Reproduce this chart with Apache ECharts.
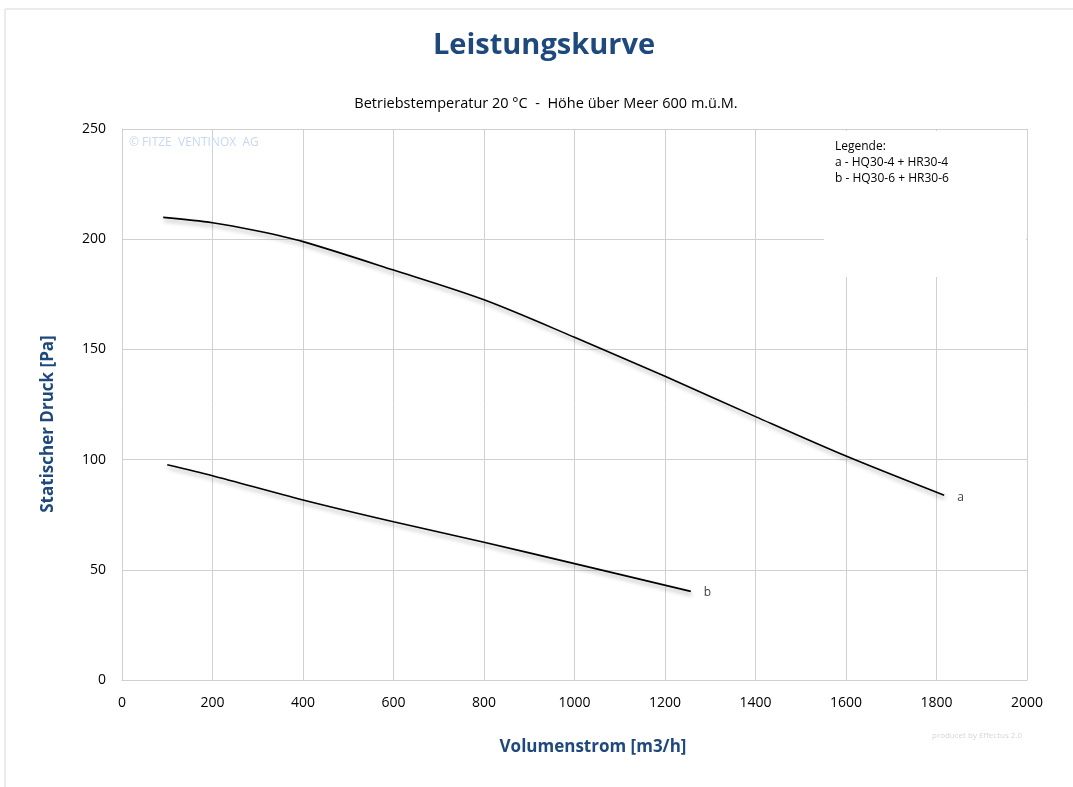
<!DOCTYPE html>
<html>
<head>
<meta charset="utf-8">
<script src="https://cdn.jsdelivr.net/npm/echarts@6/dist/echarts.min.js"></script>
<style>html,body{margin:0;padding:0;background:#fff}#c{width:1073px;height:787px}</style>
</head>
<body>
<div id="c"></div>
<script>
var curveA_x = [91, 200, 300, 400, 600, 800, 1000, 1200, 1400, 1600, 1817];
var curveA_y = [209.9, 207.5, 203.7, 198.9, 186.0, 172.5, 155.5, 137.8, 119.5, 101.6, 83.8];
var curveB_x = [100, 200, 400, 600, 800, 1000, 1257];
var curveB_y = [97.7, 92.7, 81.7, 71.8, 62.5, 52.8, 40.2];
var xTicks = [0, 200, 400, 600, 800, 1000, 1200, 1400, 1600, 1800, 2000];
var yTicks = [0, 50, 100, 150, 200, 250];
var legendLines = ['Legende:', 'a - HQ30-4 + HR30-4', 'b - HQ30-6 + HR30-6'];

function pairs(xs, ys) { return xs.map(function (x, i) { return [x, ys[i]]; }); }

var font = '"Open Sans", "Noto Sans", sans-serif';
var chart = echarts.init(document.getElementById('c'));
var lineStyle = { color: '#000', width: 1.6, shadowColor: 'rgba(0,0,0,0.35)', shadowBlur: 4, shadowOffsetX: 1, shadowOffsetY: 3 };
chart.setOption({
  animation: false,
  title: [
    { text: 'Leistungskurve', left: 539, textAlign: 'center', top: 26, textStyle: { fontFamily: font, fontSize: 29, fontWeight: 'bold', color: '#1F497D' } },
    { text: 'Betriebstemperatur 20 °C  -  Höhe über Meer 600 m.ü.M.', left: 541, textAlign: 'center', top: 91, textStyle: { fontFamily: font, fontSize: 14.5, fontWeight: 'normal', color: '#000' } }
  ],
  grid: { left: 122, right: 46, top: 129, bottom: 107, containLabel: false },
  xAxis: {
    type: 'value', min: 0, max: 2000, interval: 200,
    axisLine: { show: true, lineStyle: { color: '#d0d0d0' } },
    axisTick: { show: false },
    axisLabel: { fontFamily: font, fontSize: 14, color: '#000', margin: 16,
      formatter: function (v) { return xTicks.indexOf(v) >= 0 ? String(v) : ''; } },
    splitLine: { show: true, lineStyle: { color: '#d0d0d0' } }
  },
  yAxis: {
    type: 'value', min: 0, max: 250, interval: 50,
    axisLine: { show: true, lineStyle: { color: '#d0d0d0' } },
    axisTick: { show: false },
    axisLabel: { fontFamily: font, fontSize: 14, color: '#000', margin: 16,
      formatter: function (v) { return yTicks.indexOf(v) >= 0 ? String(v) : ''; } },
    splitLine: { show: true, lineStyle: { color: '#d0d0d0' } }
  },
  graphic: [
    { type: 'rect', z: -10, shape: { x: 5, y: 9, width: 1100, height: 800 }, style: { fill: 'none', stroke: '#d9d9d9', lineWidth: 1 } },
    { type: 'rect', z: 5, shape: { x: 824, y: 131, width: 202, height: 146 }, style: { fill: '#fff', stroke: 'none' } },
    { type: 'text', z: 6, x: 835, y: 139, style: { text: legendLines.join('\n'), font: '12px ' + font, lineHeight: 16, fill: '#000' } },
    { type: 'text', z: 6, x: 129, y: 137, style: { text: '© FITZE  VENTINOX  AG', font: '12px ' + font, fill: '#C6D9F1' } },
    { type: 'text', z: 6, x: 932, y: 732, style: { text: 'producet by Effectus 2.0', font: '8px ' + font, fill: '#d6d6d6' } },
    { type: 'text', z: 6, x: 593, y: 747, style: { text: 'Volumenstrom [m3/h]', font: 'bold 17px ' + font, fill: '#1F497D', align: 'center', verticalAlign: 'middle' } },
    { type: 'text', z: 6, x: 48, y: 424, rotation: Math.PI / 2, style: { text: 'Statischer Druck [Pa]', font: 'bold 17px ' + font, fill: '#1F497D', align: 'center', verticalAlign: 'middle' } }
  ],
  series: [
    { type: 'line', name: 'a', data: pairs(curveA_x, curveA_y), smooth: 0.3, showSymbol: false, symbol: 'none', z: 3, lineStyle: lineStyle,
      endLabel: { show: true, formatter: 'a', fontFamily: font, fontSize: 12, color: '#404040', distance: 13, offset: [0, 2] } },
    { type: 'line', name: 'b', data: pairs(curveB_x, curveB_y), smooth: 0.3, showSymbol: false, symbol: 'none', z: 3, lineStyle: lineStyle,
      endLabel: { show: true, formatter: 'b', fontFamily: font, fontSize: 12, color: '#404040', distance: 13, offset: [0, 1] } }
  ]
});
</script>
</body>
</html>
